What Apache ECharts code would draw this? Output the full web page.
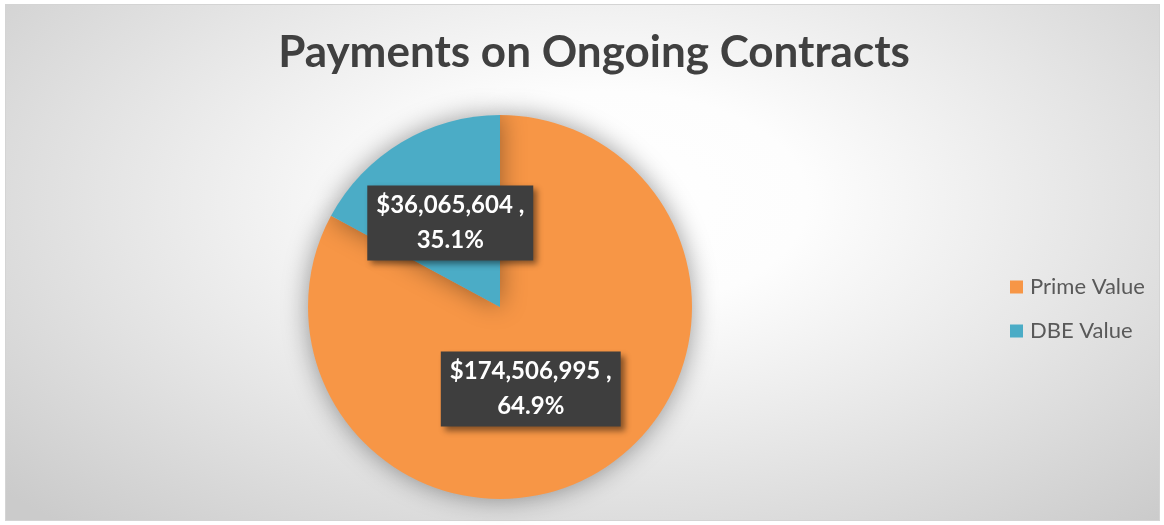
<!DOCTYPE html>
<html><head><meta charset="utf-8">
<script src="https://cdn.jsdelivr.net/npm/echarts@6/dist/echarts.min.js"></script>
<style>
html,body{margin:0;padding:0;background:#fff;}
#bg{position:absolute;left:5px;top:4px;width:1153px;height:515px;border:1px solid #d4d4d4;
background:radial-gradient(ellipse 70% 85% at 52% 38%, #ffffff 0%, #fdfdfd 25%, #e6e6e6 60%, #cbcbcb 100%);}
#chart{position:absolute;left:0;top:0;width:1164px;height:525px;}
</style></head>
<body>
<div id="bg"></div>
<div id="chart"></div>
<script>
var categories = ['Prime Value', 'DBE Value'];
var values = [174506995, 36065604];
var percentLabels = ['64.9%', '35.1%'];
var colors = ['#F79646', '#4BACC6'];

function fmt(v){ return '$' + v.toString().replace(/\B(?=(\d{3})+(?!\d))/g, ','); }

var chart = echarts.init(document.getElementById('chart'));
chart.setOption({
  backgroundColor: 'transparent',
  animation: false,
  title: {
    text: 'Payments on Ongoing Contracts',
    left: 589, top: 26, textAlign: 'center',
    textStyle: {fontFamily: 'Lato', fontWeight: 'bold', fontSize: 44, color: '#404040'}
  },
  legend: {
    orient: 'vertical', left: 1005, top: 271,
    itemWidth: 13, itemHeight: 13, itemGap: 22,
    icon: 'rect',
    textStyle: {fontFamily: 'Lato', fontSize: 22, color: '#595959', padding: [0,0,0,2]},
    data: categories
  },
  series: [{
    type: 'pie',
    center: [500, 307],
    radius: [0, 192],
    startAngle: 90,
    clockwise: true,
    color: colors,
    itemStyle: {shadowBlur: 26, shadowColor: 'rgba(0,0,0,0.4)'},
    emphasis: {disabled: true},
    label: {
      show: true, position: 'inside',
      fontFamily: 'Lato', fontWeight: 'bold', fontSize: 24, color: '#fff',
      lineHeight: 35,
      backgroundColor: '#3e3e3e',
      padding: [3, 9, 2, 9],
      shadowColor: 'rgba(0,0,0,0.45)', shadowBlur: 6, shadowOffsetX: 4, shadowOffsetY: 4,
      formatter: function(p){ return fmt(p.value) + ' ,\n' + percentLabels[p.dataIndex]; }
    },
    labelLine: {show: false},
    data: categories.map(function(c, i){
      var d = {name: c, value: values[i]};
      if (i === 0) d.label = {offset: [-20, -3]};
      else d.label = {offset: [1, 1]};
      return d;
    })
  }]
});
</script>
</body></html>
